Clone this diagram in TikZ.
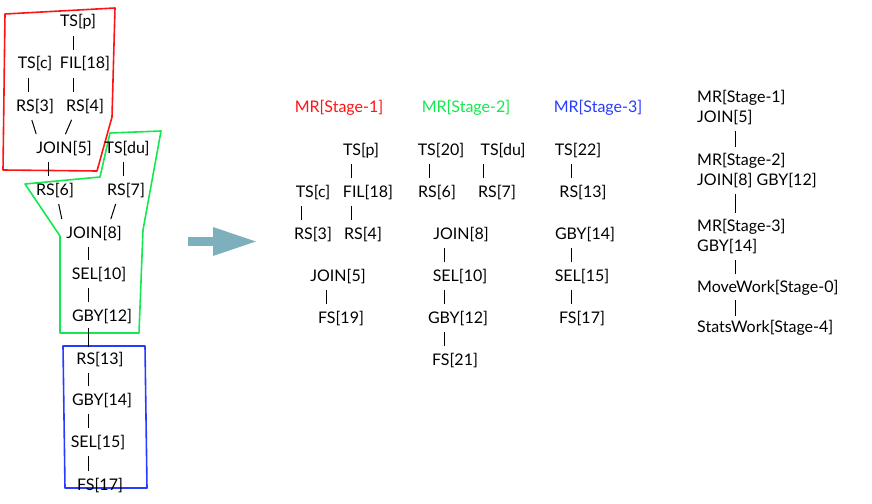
\documentclass[tikz,border=0pt]{standalone}
\usepackage{fontspec}
\setmainfont{Lato}
\usetikzlibrary{positioning,arrows.meta}
\definecolor{stageone}{RGB}{255,20,20}
\definecolor{stagetwo}{RGB}{20,232,80}
\definecolor{stagethree}{RGB}{40,60,255}
\definecolor{flow}{RGB}{125,176,188}

\begin{document}
\begin{tikzpicture}[x=1pt, y=-1pt,
			op/.style={inner sep=0pt, text height=13pt, text depth=3pt, font=\fontsize{16}{20}\selectfont},
			plan/.style={inner sep=0pt, align=left, anchor=north west, font=\fontsize{16}{20}\selectfont},
			bar/.style={draw, line width=1pt, shorten >=6pt, shorten <=6pt},
			region/.style={draw, line width=1.6pt, line join=round}
		]
		\useasboundingbox (0,0) rectangle (872,503);

		% Operator tree with the stage regions
		\draw[region, stageone] (5,14) -- (115,8) -- (112,117) -- (97,171) -- (3,170) -- cycle;
		\draw[region, stagetwo] (110,133) -- (161,131) -- (143,230) -- (139,333) -- (60,333) -- (60,236) -- (25,184) -- (100,177) -- cycle;
		\draw[region, stagethree] (63,346) -- (145,346) -- (147,488) -- (65,488) -- cycle;

		\node[op] (tsp) at (78,22) {TS[p]};
		\node[op] (tsc) at (35,64) {TS[c]};
		\node[op] (fil18) at (85,64) {FIL[18]};
		\node[op] (rs3) at (35,106) {RS[3]};
		\node[op] (rs4) at (85,106) {RS[4]};
		\node[op] (join5) at (64,148) {JOIN[5]};
		\node[op] (tsdu) at (127,148) {TS[du]};
		\node[op] (rs6) at (55,190) {RS[6]};
		\node[op] (rs7) at (126,190) {RS[7]};
		\node[op] (join8) at (94,233) {JOIN[8]};
		\node[op] (sel10) at (99,274) {SEL[10]};
		\node[op] (gby12) at (102,316) {GBY[12]};
		\node[op] (rs13) at (100,359) {RS[13]};
		\node[op] (gby14) at (102,400) {GBY[14]};
		\node[op] (sel15) at (98,442) {SEL[15]};
		\node[op] (fs17) at (100,485) {FS[17]};

		\draw[bar] ([xshift=-5pt]tsp.south) -- ([xshift=-12pt]fil18.north);
		\draw[bar] ([xshift=-7pt]tsc.south) -- ([xshift=-7pt]rs3.north);
		\draw[bar] ([xshift=-12pt]fil18.south) -- ([xshift=-12pt]rs4.north);
		\draw[bar] ([xshift=-5pt]rs3.south) -- ([xshift=-26pt]join5.north);
		\draw[bar] ([xshift=-11pt]rs4.south) -- ([xshift=-1pt]join5.north);
		\draw[bar] ([xshift=-16pt]join5.south) -- ([xshift=-7pt]rs6.north);
		\draw[bar] ([xshift=-4pt]tsdu.south) -- ([xshift=-3pt]rs7.north);
		\draw[bar] ([xshift=2.5pt]rs6.south) -- ([xshift=-31pt]join8.north);
		\draw[bar] ([xshift=-8.5pt]rs7.south) -- ([xshift=15pt]join8.north);
		\draw[bar] ([xshift=-6pt]join8.south) -- ([xshift=-11pt]sel10.north);
		\draw[bar] ([xshift=-11pt]sel10.south) -- ([xshift=-14pt]gby12.north);
		\draw[bar, shorten >=4pt, shorten <=4pt] ([xshift=-14pt]gby12.south) -- ([xshift=-12pt]rs13.north);
		\draw[bar] ([xshift=-12pt]rs13.south) -- ([xshift=-14pt]gby14.north);
		\draw[bar] ([xshift=-14pt]gby14.south) -- ([xshift=-10pt]sel15.north);
		\draw[bar] ([xshift=-10pt]sel15.south) -- ([xshift=-12pt]fs17.north);

		% Split arrow
		\coordinate (flowtail) at (188,241.5);
		\coordinate (flowhead) at (258,241.5);
		\draw[flow, line width=9pt, -{Triangle[length=45pt, width=26pt]}] (flowtail) -- (flowhead);

		% Stage 1
		\node[op, text=stageone] (mr1) at (339,107) {MR[Stage-1]};
		\node[op] (s1tsp) at (361,150) {TS[p]};
		\node[op] (s1tsc) at (313,192) {TS[c]};
		\node[op] (s1fil18) at (368,192) {FIL[18]};
		\node[op] (s1rs3) at (313,234) {RS[3]};
		\node[op] (s1rs4) at (363,234) {RS[4]};
		\node[op] (s1join5) at (338,276) {JOIN[5]};
		\node[op] (s1fs19) at (341,318) {FS[19]};

		\draw[bar] ([xshift=-10pt]s1tsp.south) -- ([xshift=-17pt]s1fil18.north);
		\draw[bar] ([xshift=-12pt]s1tsc.south) -- ([xshift=-12pt]s1rs3.north);
		\draw[bar] ([xshift=-17pt]s1fil18.south) -- ([xshift=-12pt]s1rs4.north);
		\draw[bar] ([xshift=-12pt]s1join5.south) -- ([xshift=-15pt]s1fs19.north);

		% Stage 2
		\node[op, text=stagetwo] (mr2) at (466,107) {MR[Stage-2]};
		\node[op] (s2ts20) at (441,150) {TS[20]};
		\node[op] (s2tsdu) at (503,150) {TS[du]};
		\node[op] (s2rs6) at (437,192) {RS[6]};
		\node[op] (s2rs7) at (497,192) {RS[7]};
		\node[op] (s2join8) at (461,234) {JOIN[8]};
		\node[op] (s2sel10) at (460,276) {SEL[10]};
		\node[op] (s2gby12) at (458,318) {GBY[12]};
		\node[op] (s2fs21) at (455,360) {FS[21]};

		\draw[bar] ([xshift=-12pt]s2ts20.south) -- ([xshift=-8pt]s2rs6.north);
		\draw[bar] ([xshift=-20pt]s2tsdu.south) -- ([xshift=-14pt]s2rs7.north);
		\draw[bar] ([xshift=-17pt]s2join8.south) -- ([xshift=-16pt]s2sel10.north);
		\draw[bar] ([xshift=-16pt]s2sel10.south) -- ([xshift=-14pt]s2gby12.north);
		\draw[bar] ([xshift=-14pt]s2gby12.south) -- ([xshift=-11pt]s2fs21.north);

		% Stage 3
		\node[op, text=stagethree] (mr3) at (598,107) {MR[Stage-3]};
		\node[op] (s3ts22) at (578,150) {TS[22]};
		\node[op] (s3rs13) at (583,192) {RS[13]};
		\node[op] (s3gby14) at (585,234) {GBY[14]};
		\node[op] (s3sel15) at (582,276) {SEL[15]};
		\node[op] (s3fs17) at (582,318) {FS[17]};

		\draw[bar] ([xshift=-7pt]s3ts22.south) -- ([xshift=-12pt]s3rs13.north);
		\draw[bar] ([xshift=-14pt]s3gby14.south) -- ([xshift=-11pt]s3sel15.north);
		\draw[bar] ([xshift=-11pt]s3sel15.south) -- ([xshift=-11pt]s3fs17.north);

		% Stage plan
		\node[plan] (plan1) at (697,90) {MR[Stage-1]\\JOIN[5]};
		\node[plan] (plan2) at (697,153) {MR[Stage-2]\\JOIN[8] GBY[12]};
		\node[plan] (plan3) at (697,219) {MR[Stage-3]\\GBY[14]};
		\node[plan] (plan4) at (697,280) {MoveWork[Stage-0]};
		\node[plan] (plan5) at (697,320) {StatsWork[Stage-4]};

		\draw[bar] ([xshift=38pt]plan1.south west) -- ([xshift=38pt]plan2.north west);
		\draw[bar] ([xshift=38pt]plan2.south west) -- ([xshift=38pt]plan3.north west);
		\draw[bar] ([xshift=38pt]plan3.south west) -- ([xshift=38pt]plan4.north west);
		\draw[bar, shorten >=4pt, shorten <=4pt] ([xshift=38pt]plan4.south west) -- ([xshift=38pt]plan5.north west);
	\end{tikzpicture}
\end{document}
